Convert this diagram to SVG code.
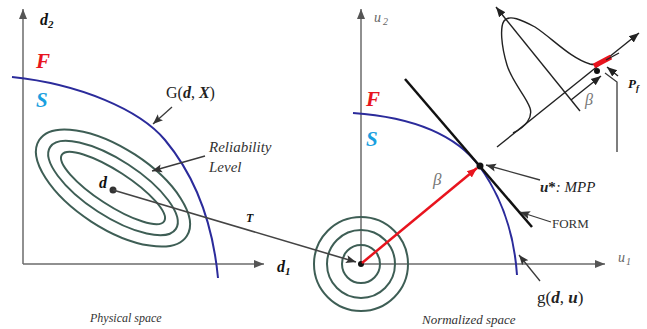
<svg xmlns="http://www.w3.org/2000/svg" width="647" height="329" viewBox="0 0 647 329">
<defs>
<marker id="ax" markerUnits="userSpaceOnUse" markerWidth="12" markerHeight="10" refX="10" refY="5" orient="auto"><path d="M0,1 L10,5 L0,9 Z" fill="#555"/></marker>
<marker id="pt" markerUnits="userSpaceOnUse" markerWidth="12" markerHeight="10" refX="10" refY="5" orient="auto"><path d="M0,1 L10,5 L0,9 L2,5 Z" fill="#333"/></marker>
<marker id="rd" markerUnits="userSpaceOnUse" markerWidth="12" markerHeight="10" refX="10" refY="5" orient="auto"><path d="M0,1 L10,5 L0,9 Z" fill="#e8141e"/></marker>
<marker id="ins" markerUnits="userSpaceOnUse" markerWidth="12" markerHeight="10" refX="10" refY="5" orient="auto"><path d="M0,1 L10,5 L0,9 Z" fill="#222"/></marker>
</defs>
<style>
.axis{stroke:#6b6b6b;stroke-width:1.5;fill:none}
.ell{stroke:#3e5e55;stroke-width:2;fill:none}
.lim{stroke:#2b2b9b;stroke-width:2;fill:none}
.ptr{stroke:#3a3a3a;stroke-width:1.3;fill:none}
.ink{stroke:#222;stroke-width:1.4;fill:none}
text{font-family:"Liberation Serif","Times New Roman",serif}
.bi{font-weight:bold;font-style:italic}
.it{font-style:italic}
</style>
<rect width="647" height="329" fill="#fff"/>

<g id="physical-axes">
<line class="axis" x1="23" y1="264" x2="23" y2="9" marker-end="url(#ax)"/>
<line class="axis" x1="23" y1="264" x2="264" y2="264" marker-end="url(#ax)"/>
<text x="40" y="25" class="bi" font-size="16" fill="#111">d<tspan font-size="11" dy="3">2</tspan></text>
<text x="277" y="272" class="bi" font-size="16" fill="#111">d<tspan font-size="11" dy="3">1</tspan></text>
<text x="36" y="68" class="bi" font-size="21" fill="#e8141e">F</text>
<text x="36" y="107" class="bi" font-size="21" fill="#1a9fe0">S</text>
</g>

<g id="limit-state-G">
<path class="lim" d="M12,77 C80,84 140,110 165,140 C190,170 212,215 218,278"/>
<text x="166" y="98" font-size="16" fill="#222">G(<tspan class="bi">d</tspan>, <tspan class="bi">X</tspan>)</text>
</g>

<g id="reliability-ellipses">
<ellipse class="ell" cx="113" cy="188" rx="88" ry="40" transform="rotate(33 113 188)"/>
<ellipse class="ell" cx="113" cy="188" rx="75" ry="28" transform="rotate(33 113 188)"/>
<ellipse class="ell" cx="113" cy="188" rx="61" ry="17" transform="rotate(33 113 188)"/>
<text x="209" y="152" class="it" font-size="15" fill="#333">Reliability</text>
<text x="209" y="172" class="it" font-size="15" fill="#333">Level</text>
</g>

<g id="design-point-d">
<circle cx="113" cy="190" r="3.5" fill="#333"/>
<text x="99" y="188" class="bi" font-size="16" fill="#111">d</text>
</g>

<g id="normalized-axes">
<line class="axis" x1="361" y1="264" x2="361" y2="9" marker-end="url(#ax)"/>
<line class="axis" x1="361" y1="264" x2="605" y2="264" marker-end="url(#ax)"/>
<text x="374" y="22" class="it" font-size="14" fill="#666">u<tspan font-size="10" dy="3" dx="2">2</tspan></text>
<text x="618" y="262" class="it" font-size="14" fill="#666">u<tspan font-size="10" dy="3" dx="1">1</tspan></text>
<text x="366" y="106" class="bi" font-size="21" fill="#e8141e">F</text>
<text x="366" y="146" class="bi" font-size="21" fill="#1a9fe0">S</text>
</g>

<g id="std-normal-circles">
<circle class="ell" cx="361" cy="264" r="19"/>
<circle class="ell" cx="361" cy="264" r="34"/>
<circle class="ell" cx="361" cy="264" r="47"/>
<circle cx="361" cy="264" r="3" fill="#111"/>
</g>

<g id="limit-state-g">
<path class="lim" d="M353,113 C410,117 455,133 480,167 C500,195 514,230 517,275"/>
<text x="537" y="303" font-size="17" fill="#222">g(<tspan class="bi">d</tspan>, <tspan class="bi">u</tspan>)</text>
</g>

<g id="form-tangent">
<line x1="405" y1="79" x2="532" y2="227" stroke="#111" stroke-width="2.5"/>
<text x="552" y="228" font-size="13" fill="#333">FORM</text>
</g>

<g id="mpp">
<circle cx="480" cy="166" r="3.5" fill="#111"/>
<text x="540" y="192" font-size="15" fill="#222"><tspan class="bi">u</tspan><tspan font-weight="bold">*</tspan><tspan class="it">: MPP</tspan></text>
</g>

<g id="beta-label">
<text x="433" y="185" class="it" font-size="17" fill="#777">β</text>
</g>

<g id="inset-pdf">
<line class="ink" x1="497" y1="147" x2="639" y2="33" marker-end="url(#ins)"/>
<line class="ink" x1="580" y1="111" x2="496" y2="7" marker-end="url(#ins)"/>
<path class="ink" d="M513,133 C526,127 533,117 530,108 C526,96 512,82 507,65 C501,45 500,27 504,21 C509,14 522,20 535,27 C552,38 570,58 590,64 C598,66 604,62 610,58"/>
<line x1="594" y1="66" x2="611" y2="57" stroke="#e8141e" stroke-width="5"/>
<circle cx="597" cy="71" r="3" fill="#111"/>
<line class="ink" x1="571" y1="100" x2="601" y2="76" marker-end="url(#ins)"/>
<polyline class="ptr" points="617,152 617,82 605,73"/>
<line class="ink" x1="618" y1="76" x2="607" y2="67" marker-end="url(#ins)"/>
<line class="ink" x1="606" y1="60" x2="619" y2="53"/>
<text x="585" y="105" class="it" font-size="16" fill="#777">β</text>
<text x="628" y="88" class="bi" font-size="13" fill="#111">P<tspan font-size="9" dy="3">f</tspan></text>
</g>

<g id="connectors">
<line class="ptr" x1="172" y1="107" x2="153" y2="124" marker-end="url(#pt)"/>
<line class="ptr" x1="205" y1="156" x2="152" y2="171" marker-end="url(#pt)"/>
<line x1="113" y1="190" x2="356" y2="262" stroke="#444" stroke-width="1.6" marker-end="url(#pt)"/>
<text x="246" y="222" class="bi" font-size="12" fill="#111">T</text>
<line x1="362" y1="263" x2="477" y2="168" stroke="#e8141e" stroke-width="2.5" marker-end="url(#rd)"/>
<line class="ptr" x1="540" y1="180" x2="486" y2="165" marker-end="url(#pt)"/>
<line class="ptr" x1="551" y1="222" x2="520" y2="212" marker-end="url(#pt)"/>
<line class="ptr" x1="540" y1="281" x2="519" y2="255" marker-end="url(#pt)"/>
</g>

<g id="captions">
<text x="90" y="322" class="it" font-size="12" fill="#333">Physical space</text>
<text x="422" y="324" class="it" font-size="13" fill="#333">Normalized space</text>
</g>
</svg>
